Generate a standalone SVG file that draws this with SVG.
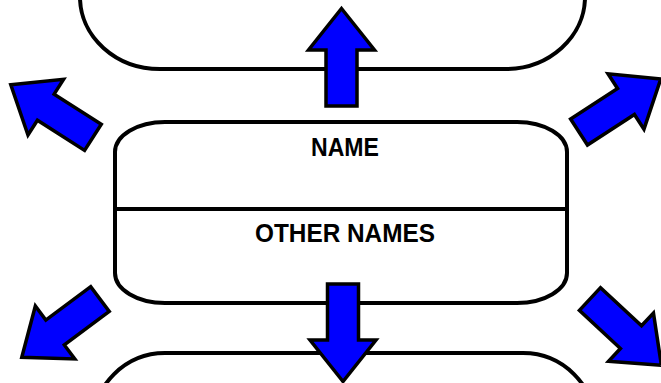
<svg xmlns="http://www.w3.org/2000/svg" xmlns:xlink="http://www.w3.org/1999/xlink" width="661" height="383" viewBox="0 0 661 383">
  <style>
    .box { fill: #ffffff; stroke: #000000; stroke-width: 4; }
    .div { stroke: #000000; stroke-width: 4; }
    .lbl { font-family: "Liberation Sans", Arial, sans-serif; font-weight: bold; font-size: 26px; fill: #000000; text-anchor: middle; }
    .arrow { fill: #0000ff; stroke: #000000; stroke-width: 3.5; stroke-linejoin: miter; }
  </style>
  <defs>
    <path id="blockArrow" d="M0,0 L33,41.5 L15.5,41.5 L15.5,97.5 L-15.5,97.5 L-15.5,41.5 L-33,41.5 Z"/>
  </defs>
  <rect x="0" y="0" width="661" height="383" fill="#ffffff"/>

  <g id="node-top">
    <rect class="box" x="80" y="-100" width="505" height="169" rx="80" ry="72"/>
  </g>

  <g id="node-main">
    <rect class="box" x="115" y="122" width="452" height="181" rx="50" ry="30"/>
    <line class="div" x1="115" y1="209" x2="567" y2="209"/>
    <text class="lbl" x="345" y="156" textLength="68" lengthAdjust="spacingAndGlyphs">NAME</text>
    <text class="lbl" x="345" y="242" textLength="180" lengthAdjust="spacingAndGlyphs">OTHER NAMES</text>
  </g>

  <g id="node-bottom">
    <rect class="box" x="93" y="353" width="502" height="200" rx="72" ry="72"/>
  </g>

  <g id="connectors">
    <use class="arrow" xlink:href="#blockArrow" href="#blockArrow" transform="translate(341.5,8.5)"/>
    <use class="arrow" xlink:href="#blockArrow" href="#blockArrow" transform="translate(343,381.5) rotate(180)"/>
    <use class="arrow" xlink:href="#blockArrow" href="#blockArrow" transform="translate(10.8,84.8) rotate(-57.4)"/>
    <use class="arrow" xlink:href="#blockArrow" href="#blockArrow" transform="translate(660.8,78.9) rotate(57)"/>
    <use class="arrow" xlink:href="#blockArrow" href="#blockArrow" transform="translate(21.8,357.3) rotate(-126.7)"/>
    <use class="arrow" xlink:href="#blockArrow" href="#blockArrow" transform="translate(661.4,365.4) rotate(132.9)"/>
  </g>
</svg>
